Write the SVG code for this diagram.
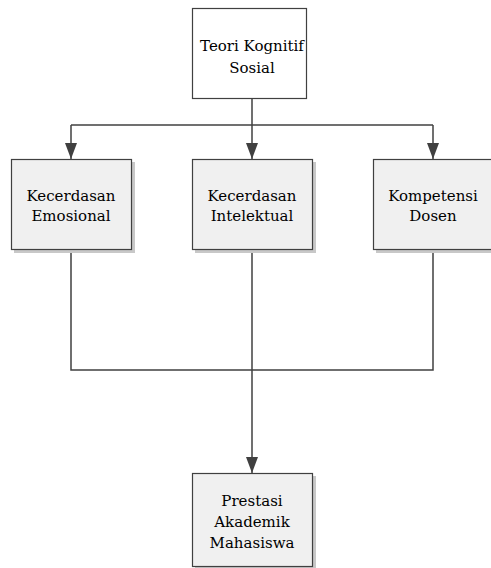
<svg xmlns="http://www.w3.org/2000/svg" width="491" height="568" viewBox="0 0 491 568">
<defs>
<marker id="arr" markerWidth="16" markerHeight="12" refX="16" refY="6" orient="auto" markerUnits="userSpaceOnUse" viewBox="0 0 16 12">
<path d="M0,0 L16,6 L0,12 Z" fill="#404040"/>
</marker>
</defs>
<style>
.box{fill:#f0f0f0;stroke:#404040;stroke-width:1.2}
.white{fill:#ffffff;stroke:#404040;stroke-width:1.2}
.sh{fill:#c8c8c8}
text{font-family:'DejaVu Serif',serif;font-size:15px;fill:#000;text-anchor:middle}
.c{fill:none;stroke:#404040;stroke-width:1.5}
</style>
<rect width="491" height="568" fill="#ffffff"/>
<g id="connectors">
<path class="c" d="M252,98 V125"/>
<path class="c" d="M71,125 H433"/>
<path class="c" d="M71,125 V159" marker-end="url(#arr)"/>
<path class="c" d="M252,125 V159" marker-end="url(#arr)"/>
<path class="c" d="M433,125 V159" marker-end="url(#arr)"/>
<path class="c" d="M71,250 V370 H433 V250"/>
<path class="c" d="M252,250 V473" marker-end="url(#arr)"/>
</g>
<g id="teori">
<rect class="white" x="192.5" y="8.5" width="114" height="90"/>
<text x="252" y="51">Teori Kognitif</text>
<text x="252" y="73">Sosial</text>
</g>
<g id="kecerdasan-emosional">
<rect class="sh" x="14" y="162" width="121" height="91"/>
<rect class="box" x="11.5" y="159.5" width="120" height="90"/>
<text x="71" y="201">Kecerdasan</text>
<text x="71" y="221">Emosional</text>
</g>
<g id="kecerdasan-intelektual">
<rect class="sh" x="195" y="162" width="121" height="91"/>
<rect class="box" x="192.5" y="159.5" width="120" height="90"/>
<text x="252" y="201">Kecerdasan</text>
<text x="252" y="221">Intelektual</text>
</g>
<g id="kompetensi-dosen">
<rect class="sh" x="376" y="162" width="121" height="91"/>
<rect class="box" x="373.5" y="159.5" width="120" height="90"/>
<text x="433" y="201">Kompetensi</text>
<text x="433" y="221">Dosen</text>
</g>
<g id="prestasi">
<rect class="sh" x="195" y="476" width="121" height="92"/>
<rect class="box" x="192.5" y="473.5" width="120" height="93"/>
<text x="252" y="506">Prestasi</text>
<text x="252" y="527">Akademik</text>
<text x="252" y="548">Mahasiswa</text>
</g>
</svg>
